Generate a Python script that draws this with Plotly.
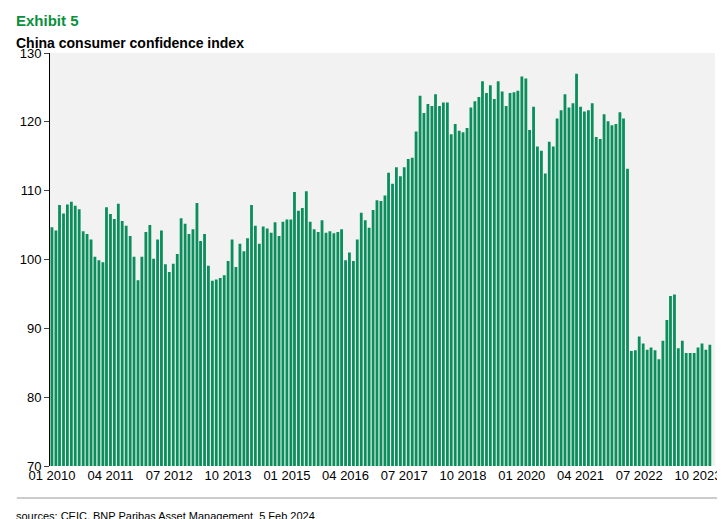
import pandas as pd
import plotly.graph_objects as go

months = pd.date_range("2010-01-01", periods=169, freq="MS")

cci = [
    104.7, 104.2, 107.9, 106.7, 108.0, 108.4, 107.8, 107.3, 104.1, 103.7, 102.9, 100.4,
    99.9, 99.6, 107.6, 106.6, 105.9, 108.1, 105.6, 104.9, 103.4, 100.4, 97.0, 100.4,
    104.0, 105.0, 100.1, 102.9, 104.2, 99.3, 98.2, 99.4, 100.8, 106.0, 105.2, 103.7,
    104.4, 108.2, 102.7, 103.7, 99.1, 96.9, 97.1, 97.3, 97.7, 99.8, 102.9, 98.9,
    102.3, 101.2, 103.1, 107.9, 104.9, 102.3, 104.8, 104.5, 103.9, 105.4, 103.4, 105.5,
    105.8, 105.8, 109.8, 107.1, 107.5, 109.9, 105.5, 104.4, 104.0, 105.7, 103.9, 104.1,
    103.8, 104.0, 104.4, 99.9, 101.0, 99.8, 102.9, 106.8, 105.7, 104.6, 107.2, 108.6,
    108.5, 109.3, 112.6, 111.0, 113.4, 112.1, 113.4, 114.6, 114.8, 118.6, 123.8, 121.3,
    122.6, 122.3, 124.0, 122.3, 122.8, 122.8, 118.2, 119.7, 118.7, 118.5, 119.1, 122.1,
    123.0, 123.6, 125.9, 124.2, 125.3, 123.3, 125.9, 124.4, 122.3, 124.2, 124.3, 124.5,
    126.6, 126.3, 118.8, 122.2, 116.4, 115.8, 112.5, 117.1, 116.4, 120.5, 121.7, 124.0,
    122.1, 122.7, 127.0, 122.2, 121.5, 121.7, 122.7, 117.8, 117.5, 121.1, 120.1, 119.5,
    119.7, 121.4, 120.5, 113.2, 86.7, 86.8, 88.8, 87.8, 86.9, 87.2, 86.8, 85.5,
    88.2, 91.2, 94.7, 94.9, 87.1, 88.2, 86.4, 86.4, 86.4, 87.2, 87.8, 86.9, 87.6,
]

tick_dates = pd.date_range("2010-01-01", periods=12, freq="15MS")
tick_labels = [d.strftime("%m %Y") for d in tick_dates]

fig = go.Figure(go.Bar(x=months, y=cci, marker_color="#0a8f5c", marker_line_width=0))

fig.update_layout(
    width=725, height=519, bargap=0.22,
    margin=dict(l=38, r=15, t=45, b=61),
    paper_bgcolor="white", plot_bgcolor="#f2f2f2",
    font=dict(family="Liberation Sans", size=13, color="black"),
    showlegend=False,
    annotations=[
        dict(text="<b>Exhibit 5</b>", x=0, y=1, xref="paper", yref="paper", xanchor="left",
             yanchor="bottom", yshift=22, xshift=-36, showarrow=False,
             font=dict(size=15, color="#0a8f3c")),
        dict(text="<b>China consumer confidence index</b>", x=0, y=1, xref="paper", yref="paper",
             xanchor="left", yanchor="bottom", xshift=-36, showarrow=False, font=dict(size=14)),
        dict(text="sources: CEIC, BNP Paribas Asset Management  5 Feb 2024", x=0, y=0,
             xref="paper", yref="paper", xanchor="left", yanchor="top", yshift=-42, xshift=-36,
             showarrow=False, font=dict(size=11)),
    ],
    shapes=[dict(type="line", xref="paper", yref="paper", x0=-0.05, x1=1.02,
                 ysizemode="pixel", yanchor=0, y0=-32, y1=-32,
                 line=dict(color="#999999", width=1))],
)
fig.update_xaxes(tickvals=tick_dates, ticktext=tick_labels, tickangle=0,
                 range=[pd.Timestamp("2009-12-17"), pd.Timestamp("2024-02-10")],
                 showgrid=False, ticks="", tickfont=dict(size=13))
fig.update_yaxes(range=[70, 130], tickvals=list(range(70, 131, 10)),
                 showgrid=False, showline=True, linecolor="black", ticks="outside",
                 ticklen=5, tickfont=dict(size=13), zeroline=False)

fig.write_html("out.html")
